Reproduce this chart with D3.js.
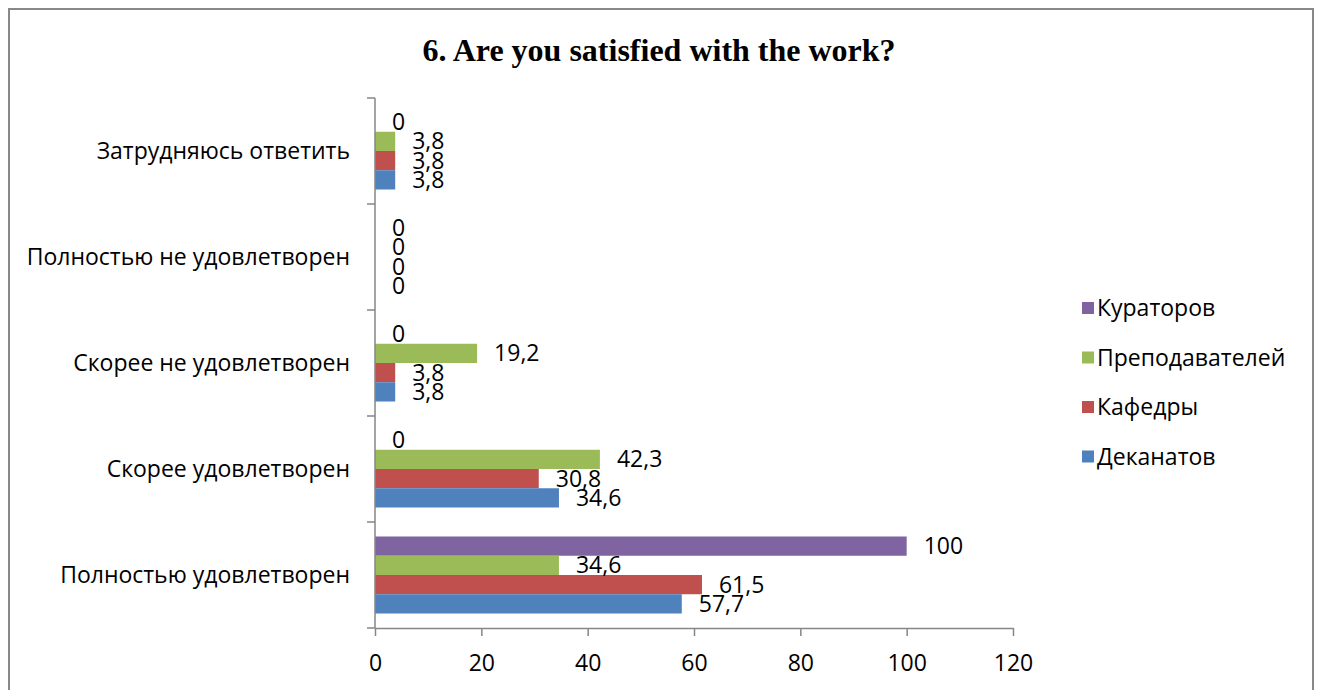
<!DOCTYPE html>
<html>
<head>
<meta charset="utf-8">
<script src="https://cdn.jsdelivr.net/npm/d3@7"></script>
<style>
  body { margin: 0; background: #fff; }
  text { font-family: "Open Sans", "Noto Sans", sans-serif; fill: #000; }
</style>
</head>
<body>
<svg id="chart" width="1320" height="690"></svg>
<script>
const categories = [
  "Затрудняюсь ответить",
  "Полностью не удовлетворен",
  "Скорее не удовлетворен",
  "Скорее удовлетворен",
  "Полностью удовлетворен"
];
// series listed top-to-bottom inside each group
const seriesNames = ["Кураторов", "Преподавателей", "Кафедры", "Деканатов"];
const seriesColors = ["#8064A2", "#9BBB59", "#C0504D", "#4F81BD"];
const kuratorov = [0, 0, 0, 0, 100];
const prepodavateley = [3.8, 0, 19.2, 42.3, 34.6];
const kafedry = [3.8, 0, 3.8, 30.8, 61.5];
const dekanatov = [3.8, 0, 3.8, 34.6, 57.7];
const xTicks = [0, 20, 40, 60, 80, 100, 120];

const seriesValues = [kuratorov, prepodavateley, kafedry, dekanatov];
const fontSize = "23px";

const svg = d3.select("#chart");

// outer frame
svg.append("rect")
  .attr("x", 9).attr("y", 9)
  .attr("width", 1304).attr("height", 700)
  .style("fill", "none")
  .style("stroke", "#888")
  .style("stroke-width", 2);

svg.append("text")
  .attr("x", 659).attr("y", 61)
  .attr("text-anchor", "middle")
  .style("font-family", "'Liberation Serif', 'Times New Roman', serif")
  .style("font-weight", "bold")
  .style("font-size", "32px")
  .text("6. Are you satisfied with the work?");

const x = d3.scaleLinear().domain([0, 120]).range([375, 1013]);
const y = d3.scaleBand().domain(categories).range([98, 628]).padding(0);
const pad = 14.5;
const inner = d3.scaleBand().domain(seriesNames)
  .range([pad, y.bandwidth() - pad]).padding(0);

// bars
const groups = svg.append("g").selectAll("g")
  .data(categories)
  .join("g")
  .attr("transform", d => `translate(0,${y(d)})`);

groups.each(function (cat, ci) {
  const g = d3.select(this);
  seriesNames.forEach((s, si) => {
    const v = seriesValues[si][ci];
    g.append("rect")
      .attr("x", x(0))
      .attr("y", inner(s))
      .attr("width", x(v) - x(0))
      .attr("height", inner.bandwidth())
      .style("fill", seriesColors[si]);
  });
  seriesNames.forEach((s, si) => {
    const v = seriesValues[si][ci];
    g.append("text")
      .attr("x", x(v) + 17)
      .attr("y", inner(s) + inner.bandwidth() / 2)
      .attr("dy", "0.35em")
      .style("font-size", fontSize)
      .text(String(v).replace(".", ","));
  });
});

// y axis with ticks at band boundaries
const yAxis = svg.append("g");
yAxis.append("line")
  .attr("x1", x(0)).attr("x2", x(0))
  .attr("y1", y.range()[0]).attr("y2", y.range()[1])
  .style("stroke", "#868686").style("stroke-width", 1.5);
const bounds = categories.map(c => y(c)).concat([y.range()[1]]);
yAxis.selectAll(".tk").data(bounds).join("line")
  .attr("x1", x(0) - 8).attr("x2", x(0))
  .attr("y1", d => d).attr("y2", d => d)
  .style("stroke", "#868686").style("stroke-width", 1.5);
yAxis.selectAll(".lbl").data(categories).join("text")
  .attr("x", 350)
  .attr("y", d => y(d) + y.bandwidth() / 2)
  .attr("dy", "0.35em")
  .attr("text-anchor", "end")
  .style("font-size", fontSize)
  .text(d => d);

// x axis
const xAxis = svg.append("g")
  .attr("transform", `translate(0,${y.range()[1]})`)
  .call(d3.axisBottom(x).tickValues(xTicks).tickSize(8).tickPadding(19).tickSizeOuter(0));
xAxis.select(".domain").style("stroke", "#868686").style("stroke-width", 1.5);
xAxis.selectAll(".tick line").style("stroke", "#868686").style("stroke-width", 1.5);
xAxis.selectAll(".tick text")
  .style("font-family", "'Open Sans', 'Noto Sans', sans-serif")
  .style("font-size", fontSize)
  .attr("fill", "#000");

// legend
const legend = svg.append("g").selectAll("g")
  .data(seriesNames)
  .join("g")
  .attr("transform", (d, i) => `translate(1082,${308 + i * 49.5})`);
legend.append("rect")
  .attr("x", 0).attr("y", -6)
  .attr("width", 12).attr("height", 12)
  .style("fill", (d, i) => seriesColors[i]);
legend.append("text")
  .attr("x", 15).attr("y", 0)
  .attr("dy", "0.35em")
  .style("font-size", fontSize)
  .text(d => d);
</script>
</body>
</html>
